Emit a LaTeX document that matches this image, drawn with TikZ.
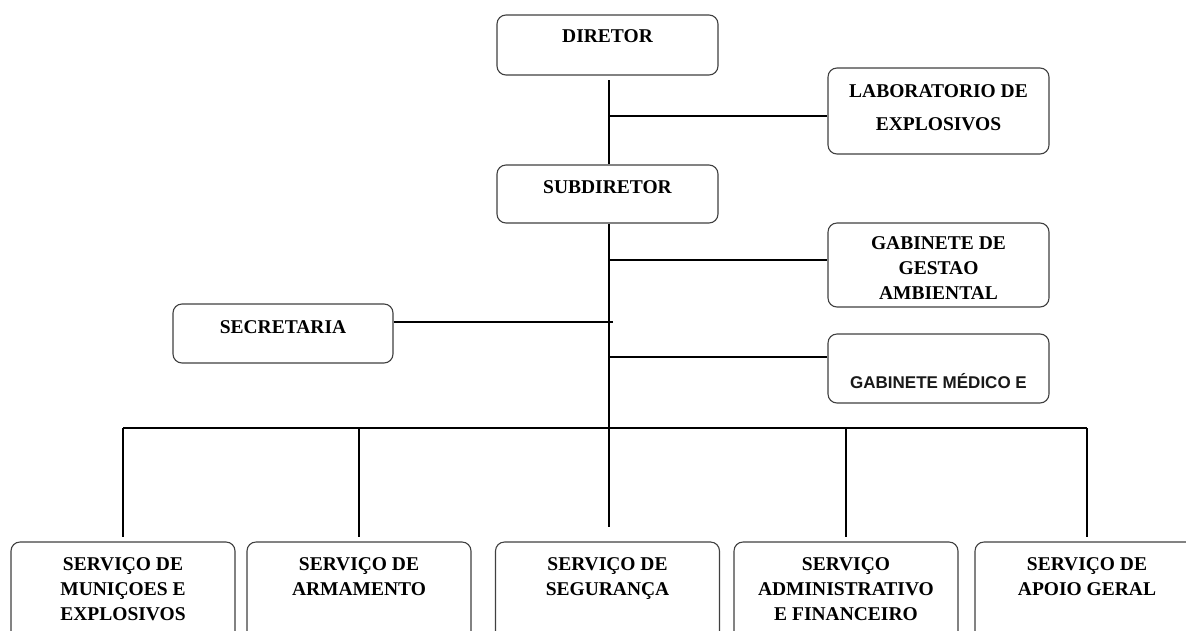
\documentclass[tikz,border=0pt]{standalone}
\usepackage{fontspec}
\setmainfont{Liberation Serif}
\newfontfamily\arialfont{Liberation Sans}
\begin{document}
\begin{tikzpicture}[x=1pt,y=-1pt,
  box/.style={draw=black!75, line width=1.1pt, rounded corners=9pt, inner sep=0pt, fill=white},
  topbox/.style={box, minimum width=221pt},
  lowbox/.style={box, minimum width=224pt, minimum height=120pt},
  lbl/.style={font=\bfseries\fontsize{19.5}{25}\selectfont, align=center, inner sep=0pt, text=black},
  wire/.style={draw=black, line width=1.3pt}]
\useasboundingbox (0,0) rectangle (1186,630);
\clip (0,0) rectangle (1186,630);

% upper boxes
\node[topbox, minimum height=60pt] (dir) at (607.5,45) {};
\node[topbox, minimum height=86pt] (lab) at (938.5,111) {};
\node[topbox, minimum height=58pt] (sub) at (607.5,194) {};
\node[topbox, minimum height=84pt] (gest) at (938.5,265) {};
\node[box, minimum width=220pt, minimum height=59pt] (sec) at (283,333.5) {};
\node[topbox, minimum height=69pt] (med) at (938.5,368.5) {};

% service boxes along the bottom
\node[lowbox] (s1) at (123,602) {};
\node[lowbox] (s2) at (359,602) {};
\node[lowbox] (s3) at (607.5,602) {};
\node[lowbox] (s4) at (846,602) {};
\node[lowbox] (s5) at (1087,602) {};

% labels
\node[lbl, anchor=base] (tdir) at (607.5,42) {DIRETOR};
\node[lbl, anchor=north, font=\bfseries\fontsize{19.5}{33}\selectfont] (tlab) at (938.5,84.5) {LABORATORIO DE\\EXPLOSIVOS};
\node[lbl, anchor=base] (tsub) at (607.5,193) {SUBDIRETOR};
\node[lbl, anchor=north] (tgest) at (938.5,236.5) {GABINETE DE\\GESTAO\\AMBIENTAL};
\node[lbl, anchor=base] (tsec) at (283,333) {SECRETARIA};
\node[anchor=base, inner sep=0pt, font=\arialfont\bfseries\fontsize{17}{20}\selectfont, text=black!90] (tmed) at (938.5,388) {GABINETE MÉDICO E};
\node[lbl, anchor=north] (ts1) at (123,557) {SERVIÇO DE\\MUNIÇOES E\\EXPLOSIVOS};
\node[lbl, anchor=north] (ts2) at (359,557) {SERVIÇO DE\\ARMAMENTO};
\node[lbl, anchor=north] (ts3) at (607.5,557) {SERVIÇO DE\\SEGURANÇA};
\node[lbl, anchor=north] (ts4) at (846,557) {SERVIÇO\\ADMINISTRATIVO\\E FINANCEIRO};
\node[lbl, anchor=north] (ts5) at (1087,557) {SERVIÇO DE\\APOIO GERAL};

% main spine and side branches
\coordinate (top) at (609,80);
\coordinate (jlab) at (609,116);
\coordinate (jgest) at (609,260);
\coordinate (jsec) at (613,322);
\coordinate (jmed) at (609,357);
\coordinate (jbus) at (609,428);
\coordinate (bot) at (609,527);

\draw[wire] (top) -- (jlab) -- (sub.north -| top);
\draw[wire] (sub.south -| top) -- (bot);
\draw[wire] (jlab) -- (jlab -| lab.west);
\draw[wire] (jgest) -- (jgest -| gest.west);
\draw[wire] (jmed) -- (jmed -| med.west);
\draw[wire] (sec.east |- jsec) -- (jsec);

% bus to the services
\draw[wire] (jbus -| s1) -- (jbus -| s5);
\foreach \s in {s1,s2,s4,s5}{
  \draw[wire] (jbus -| \s) -- ([yshift=4pt]\s.north);
}
\end{tikzpicture}
\end{document}
